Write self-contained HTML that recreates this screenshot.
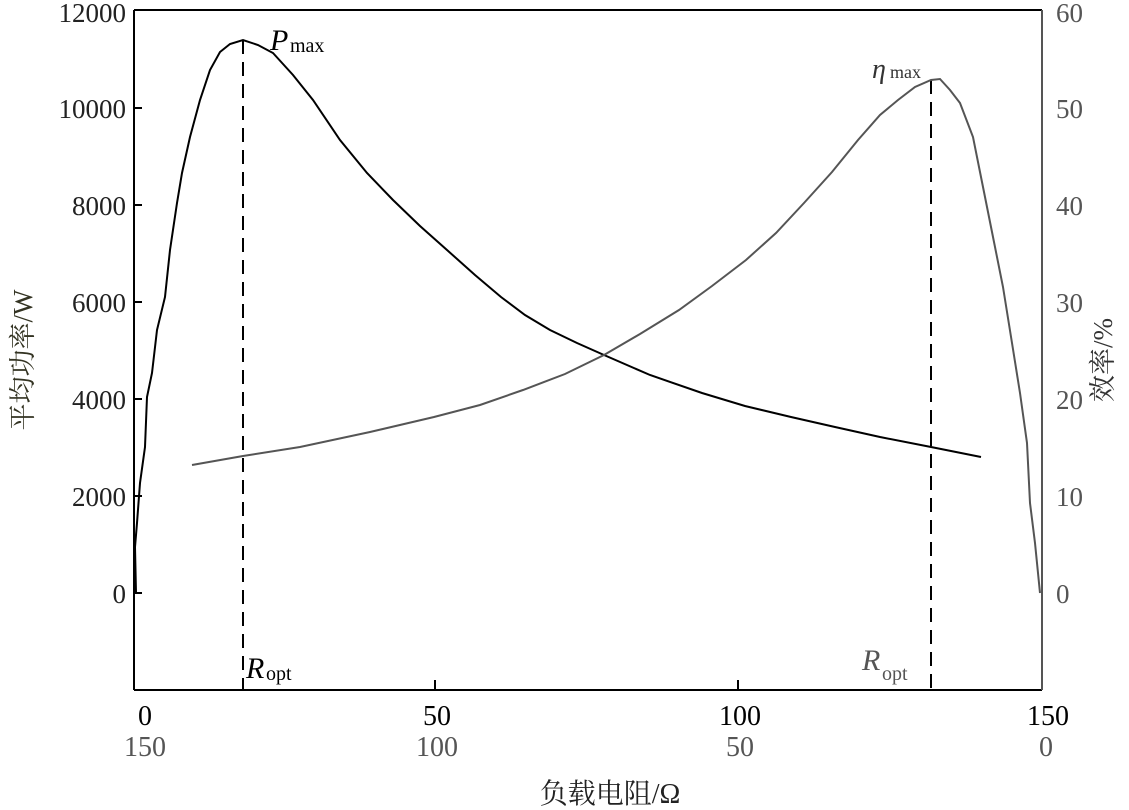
<!DOCTYPE html>
<html><head><meta charset="utf-8"><style>
html,body{margin:0;padding:0;background:#fff;}
svg{display:block;}
text{font-family:"Liberation Serif","Noto Serif CJK SC",serif;}
</style></head><body>
<svg width="1129" height="810" viewBox="0 0 1129 810" xmlns="http://www.w3.org/2000/svg">
<rect width="1129" height="810" fill="#fff"/>
<line x1="134" y1="10" x2="1042" y2="10" stroke="#000" stroke-width="2"/>
<line x1="134" y1="10" x2="134" y2="690" stroke="#000" stroke-width="2"/>
<line x1="134" y1="690" x2="1042" y2="690" stroke="#000" stroke-width="2"/>
<line x1="1042" y1="10" x2="1042" y2="690" stroke="#555" stroke-width="2"/>
<g stroke="#000" stroke-width="2">
<line x1="134" y1="593" x2="142" y2="593"/><line x1="134" y1="496" x2="142" y2="496"/>
<line x1="134" y1="399" x2="142" y2="399"/><line x1="134" y1="302" x2="142" y2="302"/>
<line x1="134" y1="205" x2="142" y2="205"/><line x1="134" y1="108" x2="142" y2="108"/>
<line x1="435" y1="680" x2="435" y2="690"/><line x1="738" y1="680" x2="738" y2="690"/>
</g>
<g font-size="27" fill="#222" text-anchor="end">
<text x="126" y="603">0</text><text x="126" y="506">2000</text><text x="126" y="409">4000</text>
<text x="126" y="312">6000</text><text x="126" y="215">8000</text><text x="126" y="118">10000</text>
<text x="126" y="22">12000</text>
</g>
<g font-size="27" fill="#555" text-anchor="start">
<text x="1056" y="603">0</text><text x="1056" y="506">10</text><text x="1056" y="409">20</text>
<text x="1056" y="312">30</text><text x="1056" y="215">40</text><text x="1056" y="118">50</text>
<text x="1056" y="22">60</text>
</g>
<text transform="translate(32,360) rotate(-90)" font-size="27" fill="#332" text-anchor="middle">平均功率/W</text>
<text transform="translate(1112,360) rotate(-90)" font-size="27" fill="#333" text-anchor="middle">效率/%</text>
<g font-size="28" fill="#000" text-anchor="middle">
<text x="145" y="725">0</text><text x="437" y="725">50</text><text x="740" y="725">100</text><text x="1048" y="725">150</text>
</g>
<g font-size="28" fill="#555" text-anchor="middle">
<text x="145" y="756">150</text><text x="437" y="756">100</text><text x="740" y="756">50</text><text x="1046" y="756">0</text>
</g>
<text x="610" y="803" font-size="28" fill="#222" text-anchor="middle">负载电阻/Ω</text>
<line x1="243" y1="40" x2="243" y2="690" stroke="#000" stroke-width="2" stroke-dasharray="14,8"/>
<line x1="931" y1="80" x2="931" y2="690" stroke="#000" stroke-width="2" stroke-dasharray="14,8"/>
<path d="M136,593 L135,547 L137,523 L140,483 L145,447 L147,397 L152,373 L157,330 L165,297 L170,250 L177,203 L182,173 L190,137 L200,100 L210,70 L220,52 L230,44 L243,40 L258,45 L273,53 L293,75 L313,100 L340,140 L367,173 L393,200 L420,226 L447,250 L475,275 L501,297 L525,315 L550,330 L577,343 L604,355 L650,375 L702,393 L745,406 L791,417 L835,427 L880,437 L931,447 L981,457" fill="none" stroke="#000" stroke-width="2"/>
<path d="M192,465 L243,456 L300,447 L370,432 L434,417 L480,405 L523,390 L565,374 L604,355 L640,334 L679,310 L712,286 L746,260 L776,233 L804,203 L832,172 L858,140 L880,115 L898,100 L915,87 L931,80 L940,79 L950,90 L960,103 L973,137 L983,187 L993,237 L1003,287 L1012,343 L1020,393 L1027,443 L1030,503 L1035,543 L1040,593" fill="none" stroke="#555" stroke-width="2"/>
<text x="270" y="50" font-size="30" font-style="italic" fill="#000">P</text>
<text x="290" y="52" font-size="20" fill="#000">max</text>
<text x="872" y="78" font-size="28" font-style="italic" fill="#333">η</text>
<text x="890" y="78" font-size="18" fill="#333">max</text>
<text x="246" y="678" font-size="30" font-style="italic" fill="#000">R</text>
<text x="266" y="680" font-size="20" fill="#000">opt</text>
<text x="862" y="670" font-size="30" font-style="italic" fill="#555">R</text>
<text x="882" y="680" font-size="20" fill="#555">opt</text>
</svg>
</body></html>
